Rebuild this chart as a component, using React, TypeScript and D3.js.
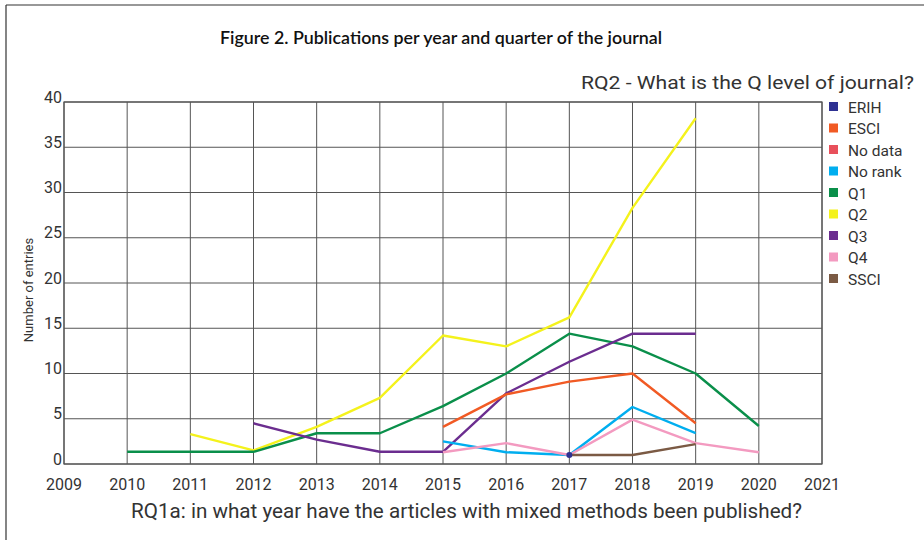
import React from "react";
import * as d3 from "d3";

const years = [2009, 2010, 2011, 2012, 2013, 2014, 2015, 2016, 2017, 2018, 2019, 2020, 2021];
const yTicks = [0, 5, 10, 15, 20, 25, 30, 35, 40];
const seriesNames = ["ERIH", "ESCI", "No data", "No rank", "Q1", "Q2", "Q3", "Q4", "SSCI"];
const seriesColors = ["#2e3192", "#f15a24", "#e8505b", "#00aeef", "#0a8f4a", "#f4f21c", "#6b2d8f", "#f39ac0", "#7b5a44"];

const erih: [number, number][] = [[2017, 1.0]];
const esci: [number, number][] = [[2015, 4.1], [2016, 7.7], [2017, 9.1], [2018, 10.0], [2019, 4.5]];
const noData: [number, number][] = [];
const noRank: [number, number][] = [[2015, 2.5], [2016, 1.3], [2017, 1.0], [2018, 6.3], [2019, 3.4]];
const q1: [number, number][] = [[2010, 1.35], [2011, 1.35], [2012, 1.35], [2013, 3.4], [2014, 3.4], [2015, 6.4], [2016, 10.0], [2017, 14.4], [2018, 13.0], [2019, 10.0], [2020, 4.2]];
const q2: [number, number][] = [[2011, 3.3], [2012, 1.5], [2013, 4.1], [2014, 7.3], [2015, 14.2], [2016, 13.0], [2017, 16.2], [2018, 28.3], [2019, 38.2]];
const q3: [number, number][] = [[2012, 4.5], [2013, 2.7], [2014, 1.35], [2015, 1.35], [2016, 7.8], [2017, 11.3], [2018, 14.4], [2019, 14.4]];
const q4: [number, number][] = [[2015, 1.3], [2016, 2.3], [2017, 1.0], [2018, 4.9], [2019, 2.3], [2020, 1.3]];
const ssci: [number, number][] = [[2017, 1.0], [2018, 1.0], [2019, 2.2]];

const seriesData = [erih, esci, noData, noRank, q1, q2, q3, q4, ssci];
const drawOrder = [5, 4, 6, 1, 3, 7, 8, 2, 0];

const DIN = "Roboto, 'DejaVu Sans', sans-serif";
const GILL = "Lato, 'Open Sans', sans-serif";

export default function App() {
  const left = 64, right = 822, top = 102, bottom = 464;
  const x = d3.scaleLinear().domain([2009, 2021]).range([left, right]);
  const y = d3.scaleLinear().domain([0, 40]).range([bottom, top]);
  const line = d3.line<[number, number]>().x(d => x(d[0])).y(d => y(d[1]));

  return (
    <svg width={924} height={540} style={{ position: "absolute", left: 0, top: 0, background: "#fff" }}>
      <rect x={0} y={0} width={924} height={540} fill="#fff" />
      <line x1={6} y1={5} x2={924} y2={5} stroke="#333" strokeWidth={1.2} />
      <line x1={6} y1={5} x2={6} y2={540} stroke="#333" strokeWidth={1.2} />

      <text x={220} y={44} fontFamily={GILL} fontSize={16.5} fill="#111" fontWeight={600}
        textLength={442} lengthAdjust="spacingAndGlyphs">
        Figure 2. Publications per year and quarter of the journal
      </text>
      <text x={581} y={89} fontFamily={DIN} fontSize={19} fill="#333"
        textLength={333} lengthAdjust="spacingAndGlyphs">
        RQ2 - What is the Q level of journal?
      </text>

      {yTicks.map(t => (
        <line key={"h" + t} x1={left} x2={right} y1={y(t)} y2={y(t)} stroke="#555" strokeWidth={1} />
      ))}
      {years.map(yr => (
        <line key={"v" + yr} x1={x(yr)} x2={x(yr)} y1={top} y2={bottom} stroke="#555" strokeWidth={1} />
      ))}
      <rect x={left} y={top} width={right - left} height={bottom - top} fill="none" stroke="#555" strokeWidth={1.2} />

      {yTicks.map(t => (
        <text key={"yt" + t} x={left - 2} y={y(t) + 0.5} textAnchor="end" fontFamily={DIN} fontSize={16} fill="#333">
          {t}
        </text>
      ))}
      {years.map(yr => (
        <text key={"xt" + yr} x={x(yr)} y={490} textAnchor="middle" fontFamily={DIN} fontSize={16} fill="#333">
          {yr}
        </text>
      ))}
      <text x={131} y={518} fontFamily={DIN} fontSize={20} fill="#333"
        textLength={671} lengthAdjust="spacingAndGlyphs">
        RQ1a: in what year have the articles with mixed methods been published?
      </text>
      <text transform={`translate(33,290) rotate(-90)`} textAnchor="middle" fontFamily={DIN} fontSize={13} fill="#333">
        Number of entries
      </text>

      {drawOrder.map(i => {
        const d = seriesData[i];
        if (d.length === 0) return null;
        if (d.length === 1) {
          return <circle key={"s" + i} cx={x(d[0][0])} cy={y(d[0][1])} r={3} fill={seriesColors[i]} />;
        }
        return (
          <path key={"s" + i} d={line(d) || ""} fill="none" stroke={seriesColors[i]} strokeWidth={2.4} strokeLinejoin="round" />
        );
      })}

      {seriesNames.map((n, i) => (
        <g key={"lg" + n} transform={`translate(829, ${107 + i * 21.5})`}>
          <rect x={0} y={-5} width={9} height={9} fill={seriesColors[i]} />
          <text x={19} y={5.5} fontFamily={DIN} fontSize={15.5} fill="#333">
            {n}
          </text>
        </g>
      ))}
    </svg>
  );
}
